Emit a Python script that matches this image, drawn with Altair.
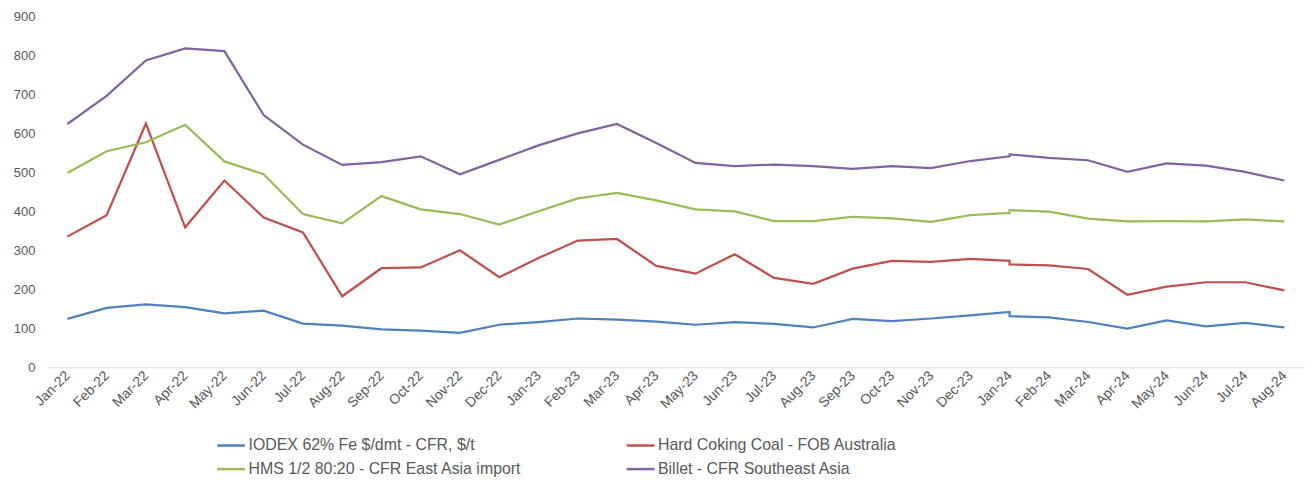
import altair as alt
import pandas as pd

months = ["Jan-22", "Feb-22", "Mar-22", "Apr-22", "May-22", "Jun-22", "Jul-22", "Aug-22",
          "Sep-22", "Oct-22", "Nov-22", "Dec-22", "Jan-23", "Feb-23", "Mar-23", "Apr-23",
          "May-23", "Jun-23", "Jul-23", "Aug-23", "Sep-23", "Oct-23", "Nov-23", "Dec-23",
          "Jan-24", "Feb-24", "Mar-24", "Apr-24", "May-24", "Jun-24", "Jul-24", "Aug-24"]

series_names = ["IODEX 62% Fe $/dmt - CFR, $/t",
                "Hard Coking Coal - FOB Australia",
                "HMS 1/2 80:20 - CFR East Asia import",
                "Billet - CFR Southeast Asia"]

iodex = [124, 152, 161, 154, 138, 145, 112, 107, 97, 94, 88, 109, 116, 125, 122, 117,
         109, 116, 111, 102, 124, 118, 125, 133, 142, 128, 116, 99, 120, 105, 114, 102]
hcc = [335, 390, 625, 359, 479, 384, 346, 182, 254, 256, 300, 231, 280, 325, 329, 260,
       240, 290, 229, 214, 253, 273, 270, 278, 273, 261, 252, 186, 207, 218, 218, 197]
hms = [498, 554, 577, 622, 528, 495, 393, 369, 439, 405, 393, 366, 400, 433, 447, 428,
       405, 400, 375, 375, 386, 382, 373, 390, 396, 399, 381, 374, 375, 374, 379, 374]
billet = [624, 696, 787, 818, 811, 647, 571, 519, 526, 541, 495, 532, 569, 600, 624, 575,
          524, 516, 520, 516, 509, 516, 511, 529, 541, 537, 531, 501, 523, 517, 501, 479]

# second (revised) value reported at Jan-24 for each series
jan24_second = [131, 264, 403, 546]

colors = ["#4F81BD", "#C0504D", "#9BBB59", "#8064A2"]

rows = []
for name, vals, extra in zip(series_names, [iodex, hcc, hms, billet], jan24_second):
    for i, (m, v) in enumerate(zip(months, vals)):
        rows.append({"month": m, "value": v, "series": name, "seq": 2 * i})
        if m == "Jan-24":
            rows.append({"month": m, "value": extra, "series": name, "seq": 2 * i + 1})
df = pd.DataFrame(rows)

FONT = "Liberation Sans"
GRAY = "#595959"

chart = alt.Chart(df).mark_line(strokeWidth=2.25).encode(
    x=alt.X("month:O", sort=months,
            scale=alt.Scale(type="point", padding=0.5),
            axis=alt.Axis(title=None, labelAngle=-45, labelAlign="right", labelBaseline="middle",
                          labelFont=FONT, labelFontSize=14, labelColor=GRAY,
                          labelPadding=6, ticks=False, domain=True, domainColor="#d9d9d9",
                          domainWidth=1, grid=False, labelOverlap=False)),
    y=alt.Y("value:Q", scale=alt.Scale(domain=[0, 900], nice=False),
            axis=alt.Axis(title=None, values=list(range(0, 1000, 100)), grid=False,
                          domain=False, ticks=False, labelFont=FONT, labelFontSize=13,
                          labelColor=GRAY, labelPadding=13)),
    color=alt.Color("series:N", scale=alt.Scale(domain=series_names, range=colors),
                    legend=alt.Legend(title=None, orient="none", legendX=169, legendY=416,
                                      columns=2, direction="horizontal",
                                      symbolType="stroke", symbolSize=784,
                                      symbolStrokeWidth=2.5, labelFont=FONT,
                                      labelFontSize=16, labelColor=GRAY, labelLimit=0,
                                      columnPadding=100, rowPadding=-7, labelOffset=2)),
    order=alt.Order("seq:Q"),
).properties(
    width=1264, height=353,
    autosize=alt.AutoSizeParams(type="none"),
    padding={"left": 40, "top": 7, "right": 2, "bottom": 109},
).configure_view(stroke=None)

chart.save("out.html", embed_options={"renderer": "svg", "actions": False})
